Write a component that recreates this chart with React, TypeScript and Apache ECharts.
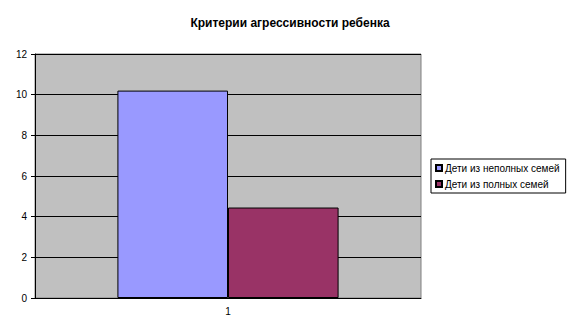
import React, { useEffect, useRef } from "react";
import * as echarts from "echarts";

const title = "Критерии агрессивности ребенка";
const categories = ["1"];
const seriesNames = ["Дети из неполных семей", "Дети из полных семей"];
const incompleteFamilies = [10.2];
const completeFamilies = [4.45];
const seriesColors = ["#9999FF", "#993366"];

export default function App() {
  const ref = useRef<HTMLDivElement>(null);
  useEffect(() => {
    document.body.style.margin = "0";
    const chart = echarts.init(ref.current!, null, { renderer: "svg" });
    const font = "Arial, 'Liberation Sans', sans-serif";
    chart.setOption({
      animation: false,
      backgroundColor: "#FFFFFF",
      title: {
        text: title,
        left: 285,
        textAlign: "center",
        top: 12,
        textStyle: { fontFamily: font, fontSize: 12, fontWeight: "bold", color: "#000" },
      },
      legend: {
        orient: "vertical",
        left: 431,
        top: 159,
        padding: [4, 6, 4, 4],
        borderColor: "#000",
        borderWidth: 1,
        itemWidth: 6,
        itemHeight: 6,
        itemGap: 6,
        icon: "rect",
        textStyle: { fontFamily: font, fontSize: 10, color: "#000", padding: [0, 0, 0, -2] },
        data: seriesNames,
      },
      grid: {
        left: 35,
        top: 54,
        width: 386,
        height: 244,
        show: true,
        backgroundColor: "#C0C0C0",
        borderColor: "#808080",
        borderWidth: 1,
      },
      xAxis: {
        type: "category",
        data: categories,
        axisLine: { lineStyle: { color: "#000" } },
        axisTick: { show: false },
        axisLabel: { fontFamily: font, fontSize: 10, color: "#000", margin: 8 },
      },
      yAxis: {
        type: "value",
        min: 0,
        max: 12,
        interval: 2,
        axisLine: { show: true, lineStyle: { color: "#000" } },
        axisTick: { show: true, length: 4, lineStyle: { color: "#000" } },
        axisLabel: { fontFamily: font, fontSize: 10, color: "#000", margin: 8 },
        splitLine: { show: true, lineStyle: { color: "#000", width: 1 } },
      },
      series: [
        {
          name: seriesNames[0],
          type: "bar",
          data: incompleteFamilies,
          barGap: "0%",
          barCategoryGap: "42.7%",
          itemStyle: { color: seriesColors[0], borderColor: "#000", borderWidth: 1 },
        },
        {
          name: seriesNames[1],
          type: "bar",
          data: completeFamilies,
          barGap: "0%",
          barCategoryGap: "42.7%",
          itemStyle: { color: seriesColors[1], borderColor: "#000", borderWidth: 1 },
        },
      ],
    });
    return () => chart.dispose();
  }, []);
  return <div ref={ref} style={{ width: 574, height: 334 }} />;
}
